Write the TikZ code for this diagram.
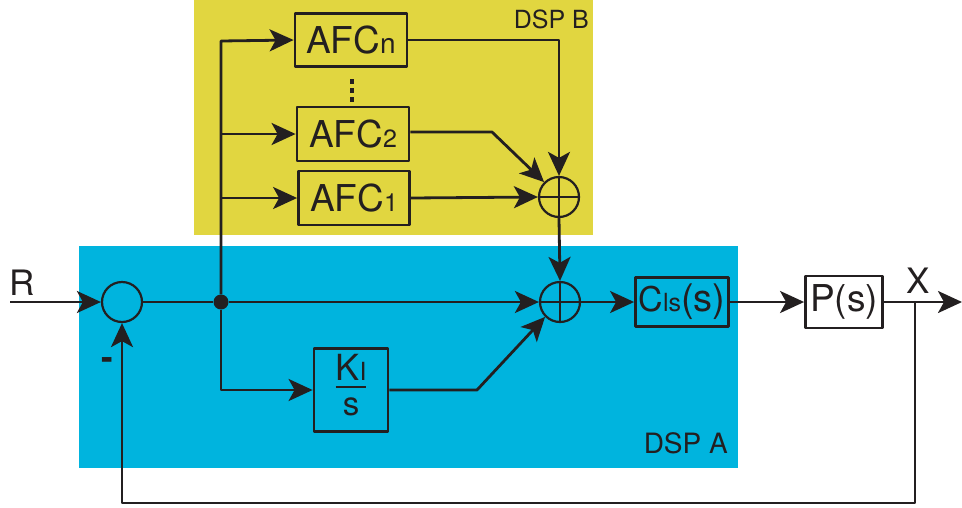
\documentclass[tikz,border=0pt]{standalone}
\usepackage{fontspec}
\setmainfont{TeX Gyre Heros}
\usetikzlibrary{arrows.meta,positioning}
\definecolor{dspyellow}{RGB}{225,214,64}
\definecolor{dspblue}{RGB}{0,180,222}
\definecolor{ink}{RGB}{35,31,32}
\newcommand{\fs}[1]{\fontsize{#1}{#1}\selectfont}

\begin{document}
\begin{tikzpicture}[x=1pt,y=-1pt,>={Stealth[length=24pt,width=22pt,inset=6pt]},line join=round,
    blk/.style={draw=ink,text=ink,line width=2.8pt,inner sep=0pt},
    sumc/.style={draw=ink,line width=2.2pt,circle,minimum size=40pt,inner sep=0pt},
    sig/.style={->,draw=ink,line width=2.8pt},
    lbl/.style={text=ink,inner sep=0pt}]
    \useasboundingbox (0,0) rectangle (962,507);
    % the two processors
    \fill[dspyellow] (194,0) rectangle (593,235);
    \fill[dspblue] (79,246) rectangle (738,468);
    \node[lbl,anchor=east,font=\fs{25}] (dspb) at (589,19) {DSP B};
    \node[lbl,anchor=east,font=\fs{28}] (dspa) at (728,443) {DSP A};

    % blocks
    \node[blk,minimum width=112pt,minimum height=53pt,font=\fs{37}] (afcn) at (351,40) {AFC{\fs{28}n}};
    \node[blk,minimum width=112pt,minimum height=54pt,font=\fs{37}] (afc2) at (353,134) {AFC{\fs{25}2}};
    \node[blk,minimum width=111pt,minimum height=54pt,font=\fs{37}] (afc1) at (354,198) {AFC{\fs{25}1}};
    \foreach \d in {79,88,97} \fill[ink] (350,\d) rectangle ++(4,5);
    \setlength{\arrayrulewidth}{2pt}
    \node[blk,minimum width=74pt,minimum height=83pt,font=\fs{36}] (ki) at (351,390)
        {\begin{tabular}{@{}c@{}}K{\fs{25}I}\\[-5pt]\hline\rule{0pt}{27pt}{\fs{33}s}\end{tabular}};
    \node[blk,minimum width=93pt,minimum height=49pt] (cls) at (682,302) {{\fs{34}C}{\fs{25}ls}{\fs{38}(s)}};
    \node[blk,minimum width=77pt,minimum height=52pt,font=\fs{37},fill=white] (plant) at (844,302) {P(s)};

    % summing points
    \node[sumc] (sum1) at (122,302) {};
    \node[sumc] (sumb) at (559,197) {};
    \node[sumc] (sum2) at (560,302) {};
    \foreach \s in {sumb,sum2} {
        \draw[ink,line width=2.2pt] (\s.north) -- (\s.south);
        \draw[ink,line width=2.2pt] (\s.west) -- (\s.east);
    }
    \node[circle,fill=ink,inner sep=0pt,minimum size=15pt] (jn) at (221,302) {};

    % labels
    \node[lbl,font=\fs{35}] (rlbl) at (22,283) {R};
    \node[lbl,font=\fs{35}] (xlbl) at (918,281) {X};
    \node[lbl,font=\bfseries\fs{35}] (minus) at (107,364) {-};

    % signal lines
    \coordinate (rin) at (10,302);
    \coordinate (top) at (221,41);
    \coordinate (bendb) at (492,132);
    \coordinate (benda) at (477,390);
    \coordinate (xout) at (962,302);
    \coordinate (xbr) at (915,302);
    \coordinate (fb) at (122,503);
    \draw[sig] (rin) -- (sum1.west);
    \draw[sig] (sum1.east) -- (jn) -- (sum2.west);
    \draw[sig] (jn) |- (ki.west);
    \draw[sig] (jn) -- (top) -- (afcn.west);
    \draw[sig] (top |- afc2) -- (afc2.west);
    \draw[sig] (top |- afc1) -- (afc1.west);
    \draw[sig] (afcn.east) -| (sumb.north);
    \draw[sig] (afc2.east |- bendb) -- (bendb) -- (sumb.north west);
    \draw[sig] (afc1.east) -- (sumb.west);
    \draw[sig] (sumb.south) -- (sum2.north);
    \draw[sig] (ki.east) -- (benda) -- (sum2.south west);
    \draw[sig] (sum2.east) -- (cls.west);
    \draw[sig] (cls.east) -- (plant.west);
    \draw[sig] (plant.east) -- (xout);
    \draw[sig] (xbr) |- (fb) -- (sum1.south);
\end{tikzpicture}
\end{document}
